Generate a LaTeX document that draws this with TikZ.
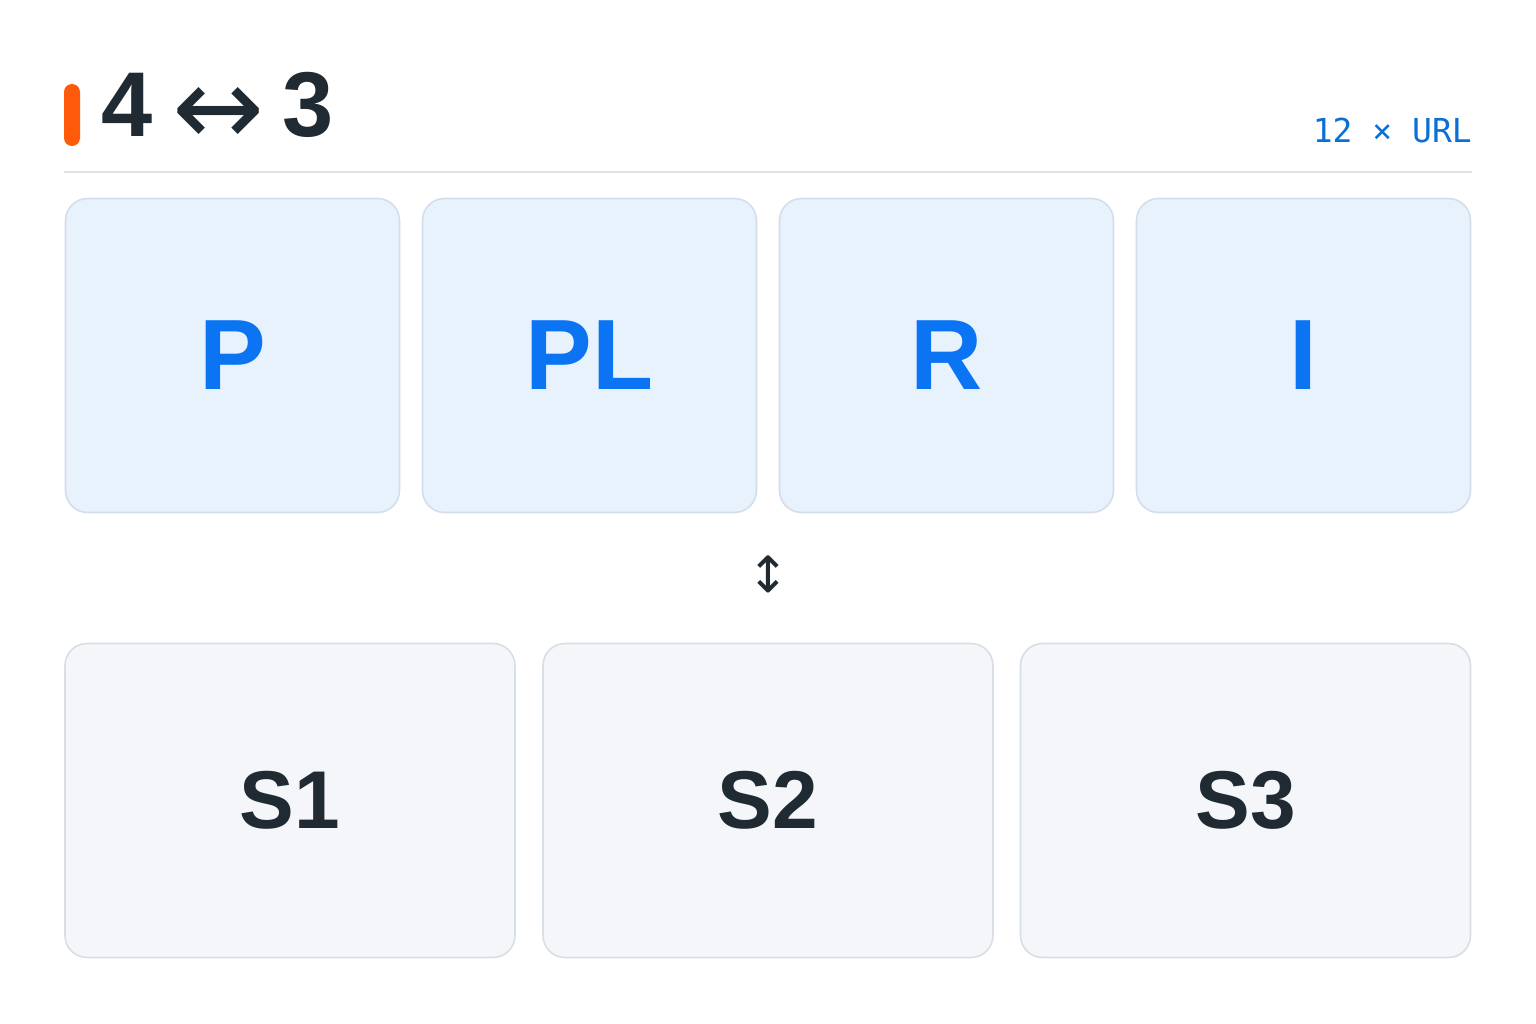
\documentclass[tikz,border=0pt]{standalone}
\usepackage{fontspec}
\setmainfont{Liberation Sans}
\newfontfamily\symfont{DejaVu Sans}
\newfontfamily\monofont{DejaVu Sans Mono}
\usetikzlibrary{positioning}

\definecolor{accent}{HTML}{FF5A0A}
\definecolor{ink}{HTML}{1F2A33}
\definecolor{azure}{HTML}{0A74F2}
\definecolor{linkblue}{HTML}{0B6FD6}
\definecolor{topfill}{HTML}{E8F2FD}
\definecolor{topedge}{HTML}{D3DEEA}
\definecolor{lowfill}{HTML}{F4F6FA}
\definecolor{lowedge}{HTML}{D8DEE5}
\definecolor{rule}{HTML}{DCE3E8}

\begin{document}
\begin{tikzpicture}[x=1pt,y=-1pt,
    topbox/.style={draw=topedge,fill=topfill,line width=1.6pt,rounded corners=22pt,
      minimum width=334pt,minimum height=314pt,inner sep=0pt,
      text=azure,font=\fontsize{100}{100}\selectfont\bfseries},
    lowbox/.style={draw=lowedge,fill=lowfill,line width=1.6pt,rounded corners=22pt,
      minimum width=450pt,minimum height=314pt,inner sep=0pt,
      text=ink,font=\fontsize{82}{82}\selectfont\bfseries}]
    \useasboundingbox (0,0) rectangle (1536,1024);

    % Header
    \fill[accent,rounded corners=8pt] (64,84) rectangle (80,146);
    \node[anchor=base west,inner sep=0pt,text=ink,font=\fontsize{92}{92}\selectfont\bfseries]
      (title) at (101,137) {4\hspace{20pt}\raisebox{-9pt}{\symfont\mdseries\fontsize{110}{110}\selectfont ↔}\hspace{18pt}3};
    \node[anchor=base east,inner sep=0pt,text=linkblue,font=\monofont\fontsize{33}{33}\selectfont]
      (count) at (1472,143) {12 × URL};
    \draw[rule,line width=1.6pt] (64,172) -- (1472,172);

    % Top row
    \node[topbox] (p)  at (232.5,355.5) {P};
    \node[topbox] (pl) at (589.5,355.5) {PL};
    \node[topbox] (r)  at (946.5,355.5) {R};
    \node[topbox] (i)  at (1303.5,355.5) {I};

    % Swap mark
    \node[text=ink,inner sep=0pt,font=\symfont\fontsize{50}{50}\selectfont]
      (swap) at (768,574) {↕};

    % Bottom row
    \node[lowbox] (s1) at (290,800.5) {S1};
    \node[lowbox] (s2) at (768,800.5) {S2};
    \node[lowbox] (s3) at (1245.5,800.5) {S3};
  \end{tikzpicture}
\end{document}
